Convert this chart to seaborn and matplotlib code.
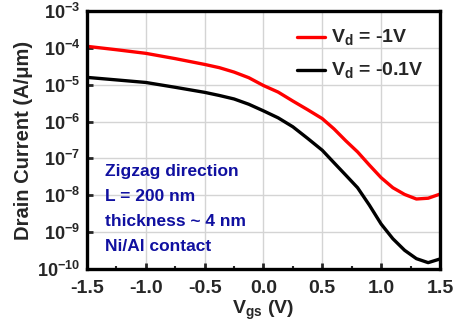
import math
import matplotlib
matplotlib.use('Agg')
import matplotlib.pyplot as plt
import matplotlib.ticker as mticker
import seaborn as sns
import pandas as pd

# gate voltage (V)
vgs = [-1.5, -1.25, -1.0, -0.75, -0.5, -0.375, -0.25, -0.125, 0.0, 0.125, 0.25,
       0.375, 0.5, 0.6, 0.7, 0.8, 0.9, 1.0, 1.1, 1.2, 1.3, 1.4, 1.5]

# drain current (A/um), Vd = -1V
id_1v = [1.10e-4, 8.9e-5, 7.1e-5, 5.1e-5, 3.55e-5, 2.9e-5, 2.2e-5, 1.55e-5, 9.5e-6,
         6.3e-6, 3.6e-6, 2.1e-6, 1.2e-6, 6.3e-7, 3.0e-7, 1.5e-7, 6.6e-8, 3.0e-8,
         1.6e-8, 1.05e-8, 7.9e-9, 8.3e-9, 1.07e-8]

# drain current (A/um), Vd = -0.1V
id_01v = [1.58e-5, 1.35e-5, 1.15e-5, 8.5e-6, 6.2e-6, 5.1e-6, 4.1e-6, 2.95e-6, 1.95e-6,
          1.26e-6, 7.2e-7, 3.5e-7, 1.66e-7, 7.6e-8, 3.5e-8, 1.6e-8, 5.4e-9, 1.66e-9,
          6.6e-10, 3.2e-10, 1.9e-10, 1.48e-10, 1.86e-10]

labels = [r'$\mathbf{V_d}$ = -1V', r'$\mathbf{V_d}$ = -0.1V']
colors = ['#ff0000', '#000000']
notes = ['Zigzag direction', 'L = 200 nm', 'thickness ~ 4 nm', 'Ni/Al contact']

sns.set_style('ticks')
plt.rcParams['font.family'] = ['Liberation Sans', 'DejaVu Sans']
plt.rcParams['font.weight'] = 'bold'
plt.rcParams['mathtext.fontset'] = 'custom'
plt.rcParams['mathtext.rm'] = 'Liberation Sans:bold'
plt.rcParams['mathtext.bf'] = 'Liberation Sans:bold'
plt.rcParams['mathtext.it'] = 'Liberation Sans:bold'

df = pd.DataFrame({
    'Vgs': vgs * 2,
    'Id': id_1v + id_01v,
    'curve': [labels[0]] * len(vgs) + [labels[1]] * len(vgs),
})

fig = plt.figure(figsize=(4.69, 3.24), dpi=100)
ax = fig.add_axes([0.1855, 0.170, 0.7525, 0.796])

sns.lineplot(data=df, x='Vgs', y='Id', hue='curve', palette=colors,
             linewidth=2.4, ax=ax, legend=False)

ax.set_yscale('log')
ax.set_xlim(-1.5, 1.5)
ax.set_ylim(1e-10, 1e-3)
ax.xaxis.set_major_locator(mticker.MultipleLocator(0.5))
ax.xaxis.set_minor_locator(mticker.MultipleLocator(0.25))
ax.xaxis.set_major_formatter(mticker.FormatStrFormatter('%.1f'))
ax.yaxis.set_major_locator(mticker.LogLocator(base=10, numticks=20))
ax.yaxis.set_minor_locator(mticker.NullLocator())
ax.yaxis.set_major_formatter(mticker.FuncFormatter(
    lambda v, p: r'$\mathbf{10^{%d}}$' % round(math.log10(v))))

ax.grid(True, which='major', color='#d4d4d4', linewidth=1.0)
ax.set_axisbelow(True)
for s in ax.spines.values():
    s.set_linewidth(2.4)
    s.set_color('black')
ax.tick_params(which='major', direction='in', length=4, width=2)
ax.tick_params(which='minor', direction='in', length=2.5, width=1.5)
ax.tick_params(axis='x', labelsize=14, pad=8)
ax.tick_params(axis='y', labelsize=13, pad=5)

ax.set_xlabel(r'$\mathbf{V_{gs}}$ (V)', fontsize=14, fontweight='bold', labelpad=1)
ax.set_ylabel('Drain Current (A/μm)', fontsize=14.5, fontweight='bold', labelpad=3)

# legend drawn by hand to match original
for i, (lab, col) in enumerate(zip(labels, colors)):
    yy = 0.9 - i * 0.13
    ax.plot([0.595, 0.674], [yy, yy], transform=ax.transAxes, color=col, linewidth=2.4)
    ax.text(0.69, yy, lab, transform=ax.transAxes, fontsize=14, fontweight='bold',
            va='center', ha='left')

for i, t in enumerate(notes):
    ax.text(0.05, 0.376 - i * 0.097, t, transform=ax.transAxes, fontsize=12.5,
            fontweight='bold', color='#1010a0', va='center', ha='left')

fig.savefig('out.png', dpi=100)
